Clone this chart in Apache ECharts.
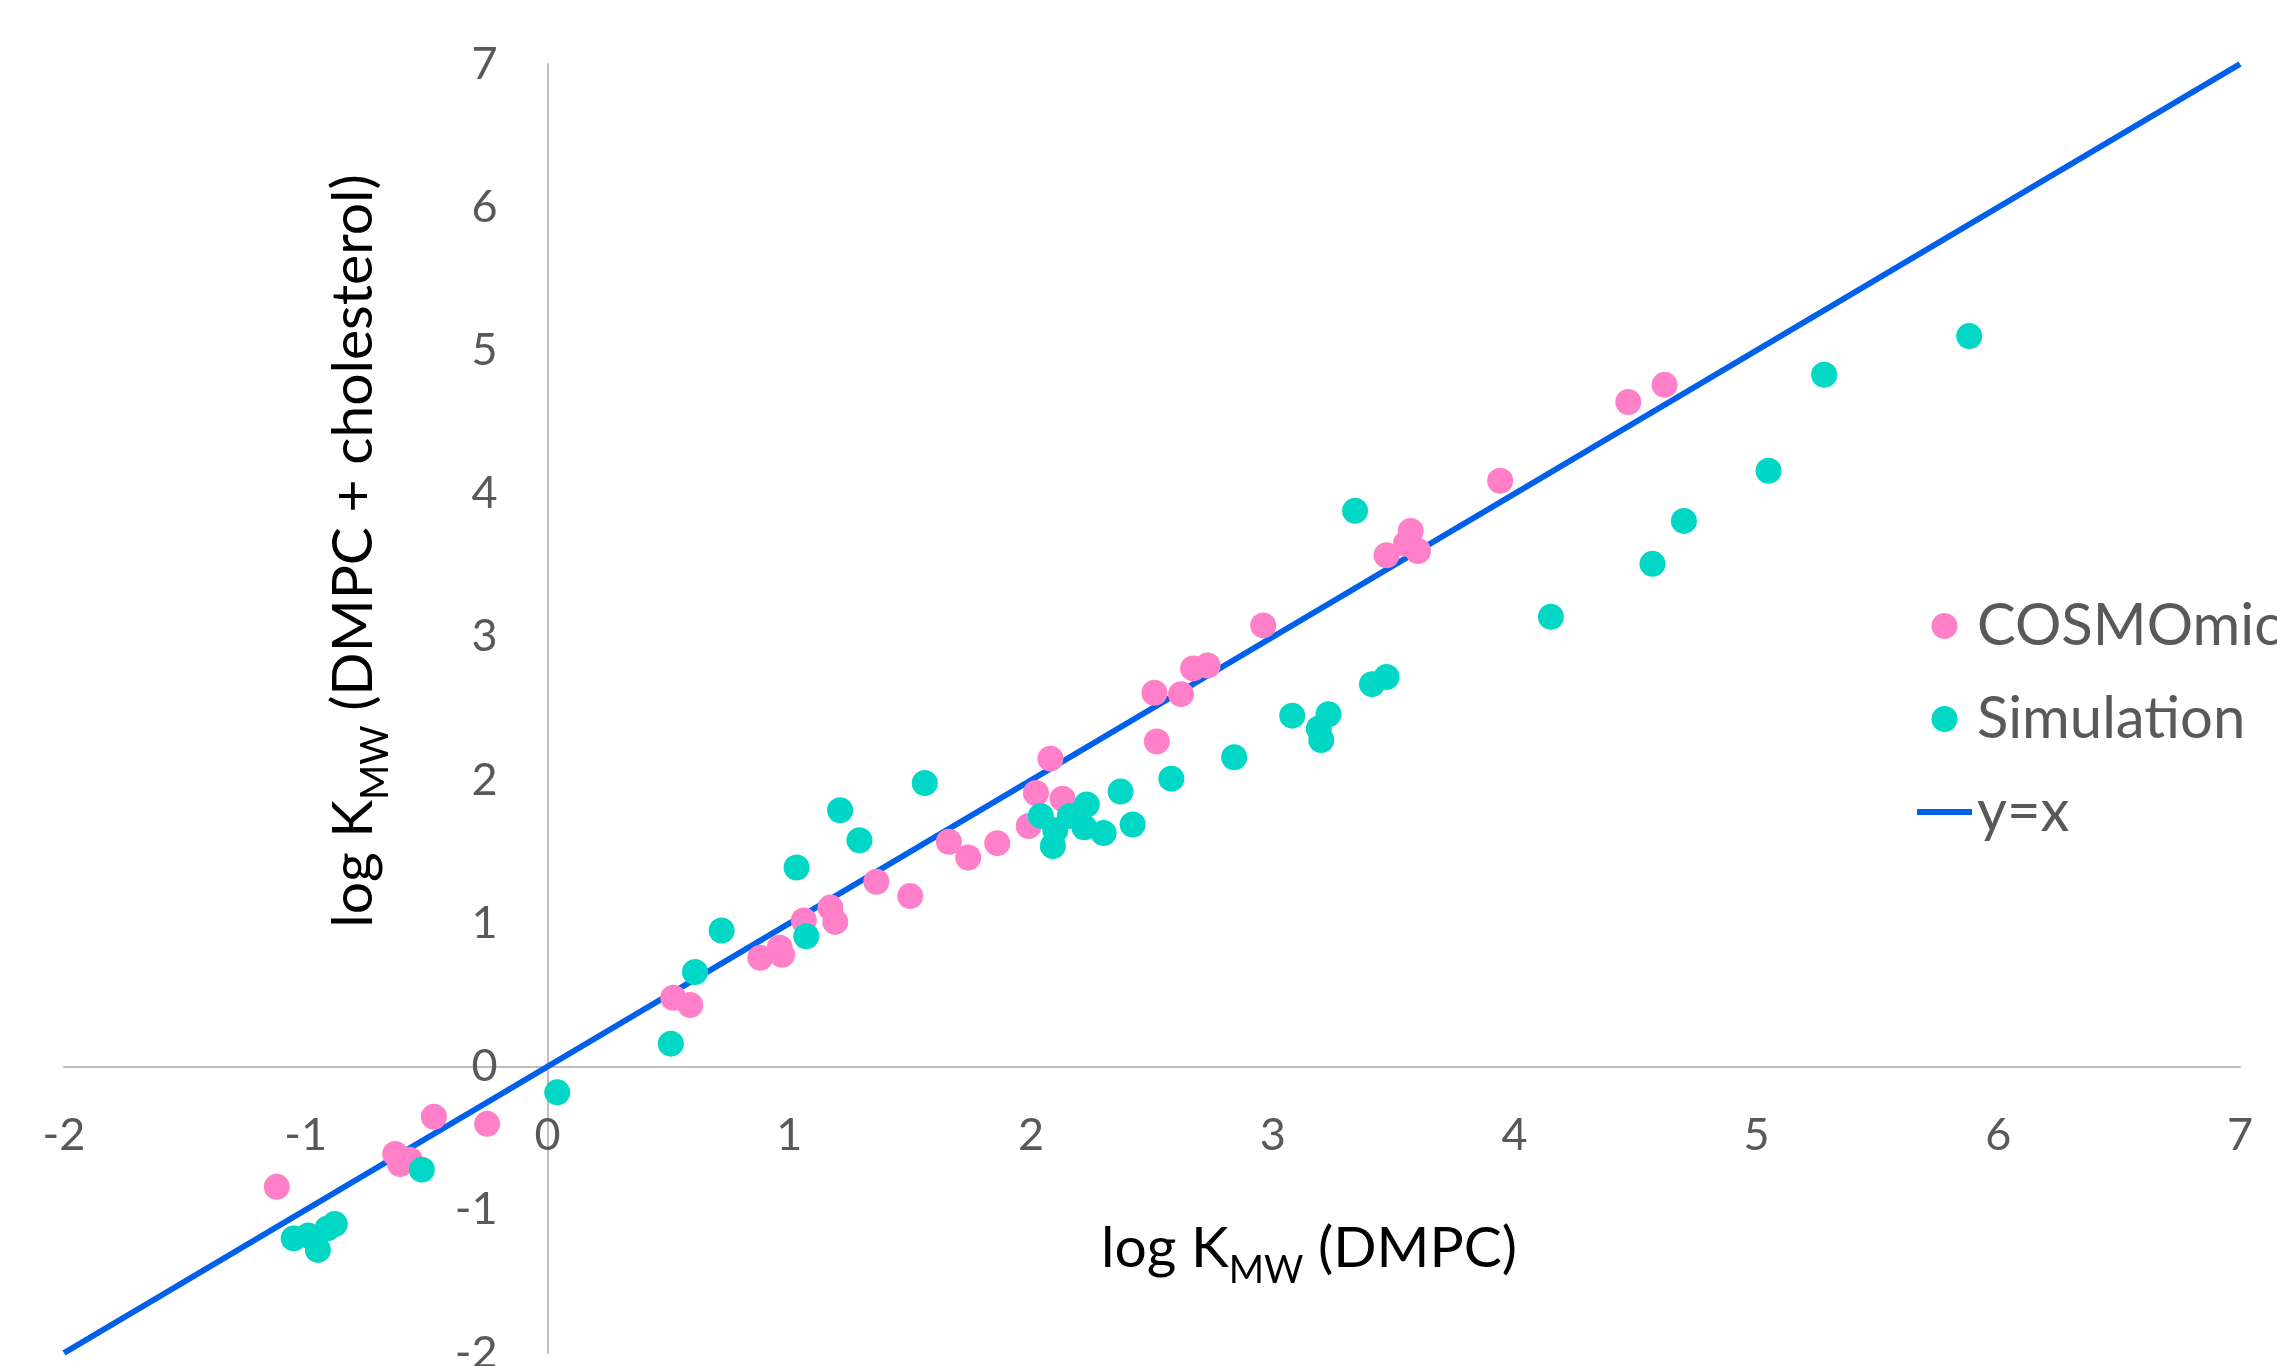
<!DOCTYPE html>
<html>
<head>
<meta charset="utf-8">
<style>
html,body{margin:0;padding:0;background:#fff;}
#c{width:2277px;height:1366px;}
</style>
<script src="https://cdn.jsdelivr.net/npm/echarts@6/dist/echarts.min.js"></script>
</head>
<body>
<div id="c"></div>
<script>
// ---- data ----
const seriesNames = ['COSMOmic', 'Simulation', 'y=x'];
const cosmoX = [-1.12,-0.63,-0.61,-0.57,-0.47,-0.25,0.52,0.59,0.88,0.96,0.97,1.06,1.17,1.19,1.36,1.50,1.66,1.74,1.86,1.99,2.02,2.08,2.13,2.51,2.52,2.62,2.67,2.73,2.96,3.47,3.55,3.57,3.60,3.94,4.47,4.62];
const cosmoY = [-0.84,-0.61,-0.68,-0.65,-0.35,-0.40,0.48,0.43,0.76,0.83,0.78,1.02,1.11,1.01,1.29,1.19,1.57,1.46,1.56,1.68,1.91,2.15,1.87,2.61,2.27,2.60,2.78,2.80,3.08,3.57,3.65,3.74,3.60,4.09,4.64,4.76];
const simX = [-1.05,-0.99,-0.95,-0.91,-0.88,-0.52,0.04,0.51,0.61,0.72,1.03,1.07,1.21,1.29,1.56,2.04,2.10,2.09,2.16,2.23,2.22,2.30,2.37,2.42,2.58,2.84,3.08,3.19,3.20,3.23,3.34,3.41,3.47,4.15,4.57,4.70,5.05,5.28,5.88];
const simY = [-1.20,-1.18,-1.28,-1.13,-1.10,-0.72,-0.18,0.16,0.66,0.95,1.39,0.91,1.79,1.58,1.98,1.75,1.65,1.54,1.75,1.83,1.67,1.63,1.92,1.69,2.01,2.16,2.45,2.36,2.28,2.46,3.88,2.67,2.72,3.14,3.51,3.81,4.16,4.83,5.10];
const refLineX = [-2, 7];
const refLineY = [-2, 7];
const axisMin = -2, axisMax = 7, axisStep = 1;
const xTitle = ['log K', 'MW', ' (DMPC)'];
const yTitle = ['log K', 'MW', ' (DMPC + cholesterol)'];

const FONT = 'Lato, "Open Sans", sans-serif';
const TXT = '#595959';
const zip = (a, b) => a.map((v, i) => [v, b[i]]);

// layout
const W = 2277, H = 1366;
const G = {left: 64, right: 37, top: 64, bottom: 13};
const plotW = W - G.left - G.right, plotH = H - G.top - G.bottom;
// put the axes through zero
const xAxisOffset = -(0 - axisMin) / (axisMax - axisMin) * plotH;
const yAxisOffset = -(0 - axisMin) / (axisMax - axisMin) * plotW;

const titleRich = {
  n: {fontSize: 57, color: TXT, fontFamily: FONT, verticalAlign: 'middle'},
  s: {fontSize: 38, color: TXT, fontFamily: FONT, verticalAlign: 'middle', padding: [44, 0, 0, 0]}
};
const richText = t => '{n|' + t[0] + '}{s|' + t[1] + '}{n|' + t[2] + '}';

const chart = echarts.init(document.getElementById('c'), null, {renderer: 'canvas'});
chart.setOption({
  animation: false,
  backgroundColor: '#ffffff',
  grid: Object.assign({containLabel: false, outerBoundsMode: 'none'}, G),
  xAxis: {
    type: 'value', min: axisMin, max: axisMax, interval: axisStep,
    position: 'bottom', offset: xAxisOffset,
    axisLine: {onZero: false, lineStyle: {color: '#BFBFBF', width: 2}},
    axisTick: {show: false},
    splitLine: {show: false},
    axisLabel: {fontSize: 45, color: TXT, fontFamily: FONT, margin: 46}
  },
  yAxis: {
    type: 'value', min: axisMin, max: axisMax, interval: axisStep,
    position: 'left', offset: yAxisOffset,
    axisLine: {show: true, onZero: false, lineStyle: {color: '#BFBFBF', width: 2}},
    axisTick: {show: false},
    splitLine: {show: false},
    axisLabel: {fontSize: 45, color: TXT, fontFamily: FONT, margin: 50}
  },
  legend: {
    orient: 'vertical', left: 1912, top: 591, padding: 5,
    itemWidth: 55, itemHeight: 26, itemGap: 33,
    symbolKeepAspect: true,
    textStyle: {fontSize: 58, lineHeight: 60, color: TXT, fontFamily: FONT},
    data: [
      {name: seriesNames[0], icon: 'circle'},
      {name: seriesNames[1], icon: 'circle'},
      {name: seriesNames[2], icon: 'path://M0,0 L55,0 L55,6 L0,6 Z'}
    ]
  },
  graphic: [
    {type: 'text', x: 1309, y: 1249, style: {text: richText(xTitle), rich: titleRich, align: 'center', verticalAlign: 'middle'}},
    {type: 'text', x: 354, y: 551, rotation: Math.PI / 2, style: {text: richText(yTitle), rich: titleRich, align: 'center', verticalAlign: 'middle'}}
  ],
  series: [
    {name: seriesNames[2], type: 'line', data: zip(refLineX, refLineY), symbol: 'none', z: 1,
     lineStyle: {color: '#0060EA', width: 6}, itemStyle: {color: '#0060EA'}},
    {name: seriesNames[0], type: 'scatter', data: zip(cosmoX, cosmoY), symbolSize: 26, z: 3,
     itemStyle: {color: '#FF80C8', opacity: 1}},
    {name: seriesNames[1], type: 'scatter', data: zip(simX, simY), symbolSize: 26, z: 4,
     itemStyle: {color: '#00D7C5', opacity: 1}}
  ]
});
</script>
</body>
</html>
